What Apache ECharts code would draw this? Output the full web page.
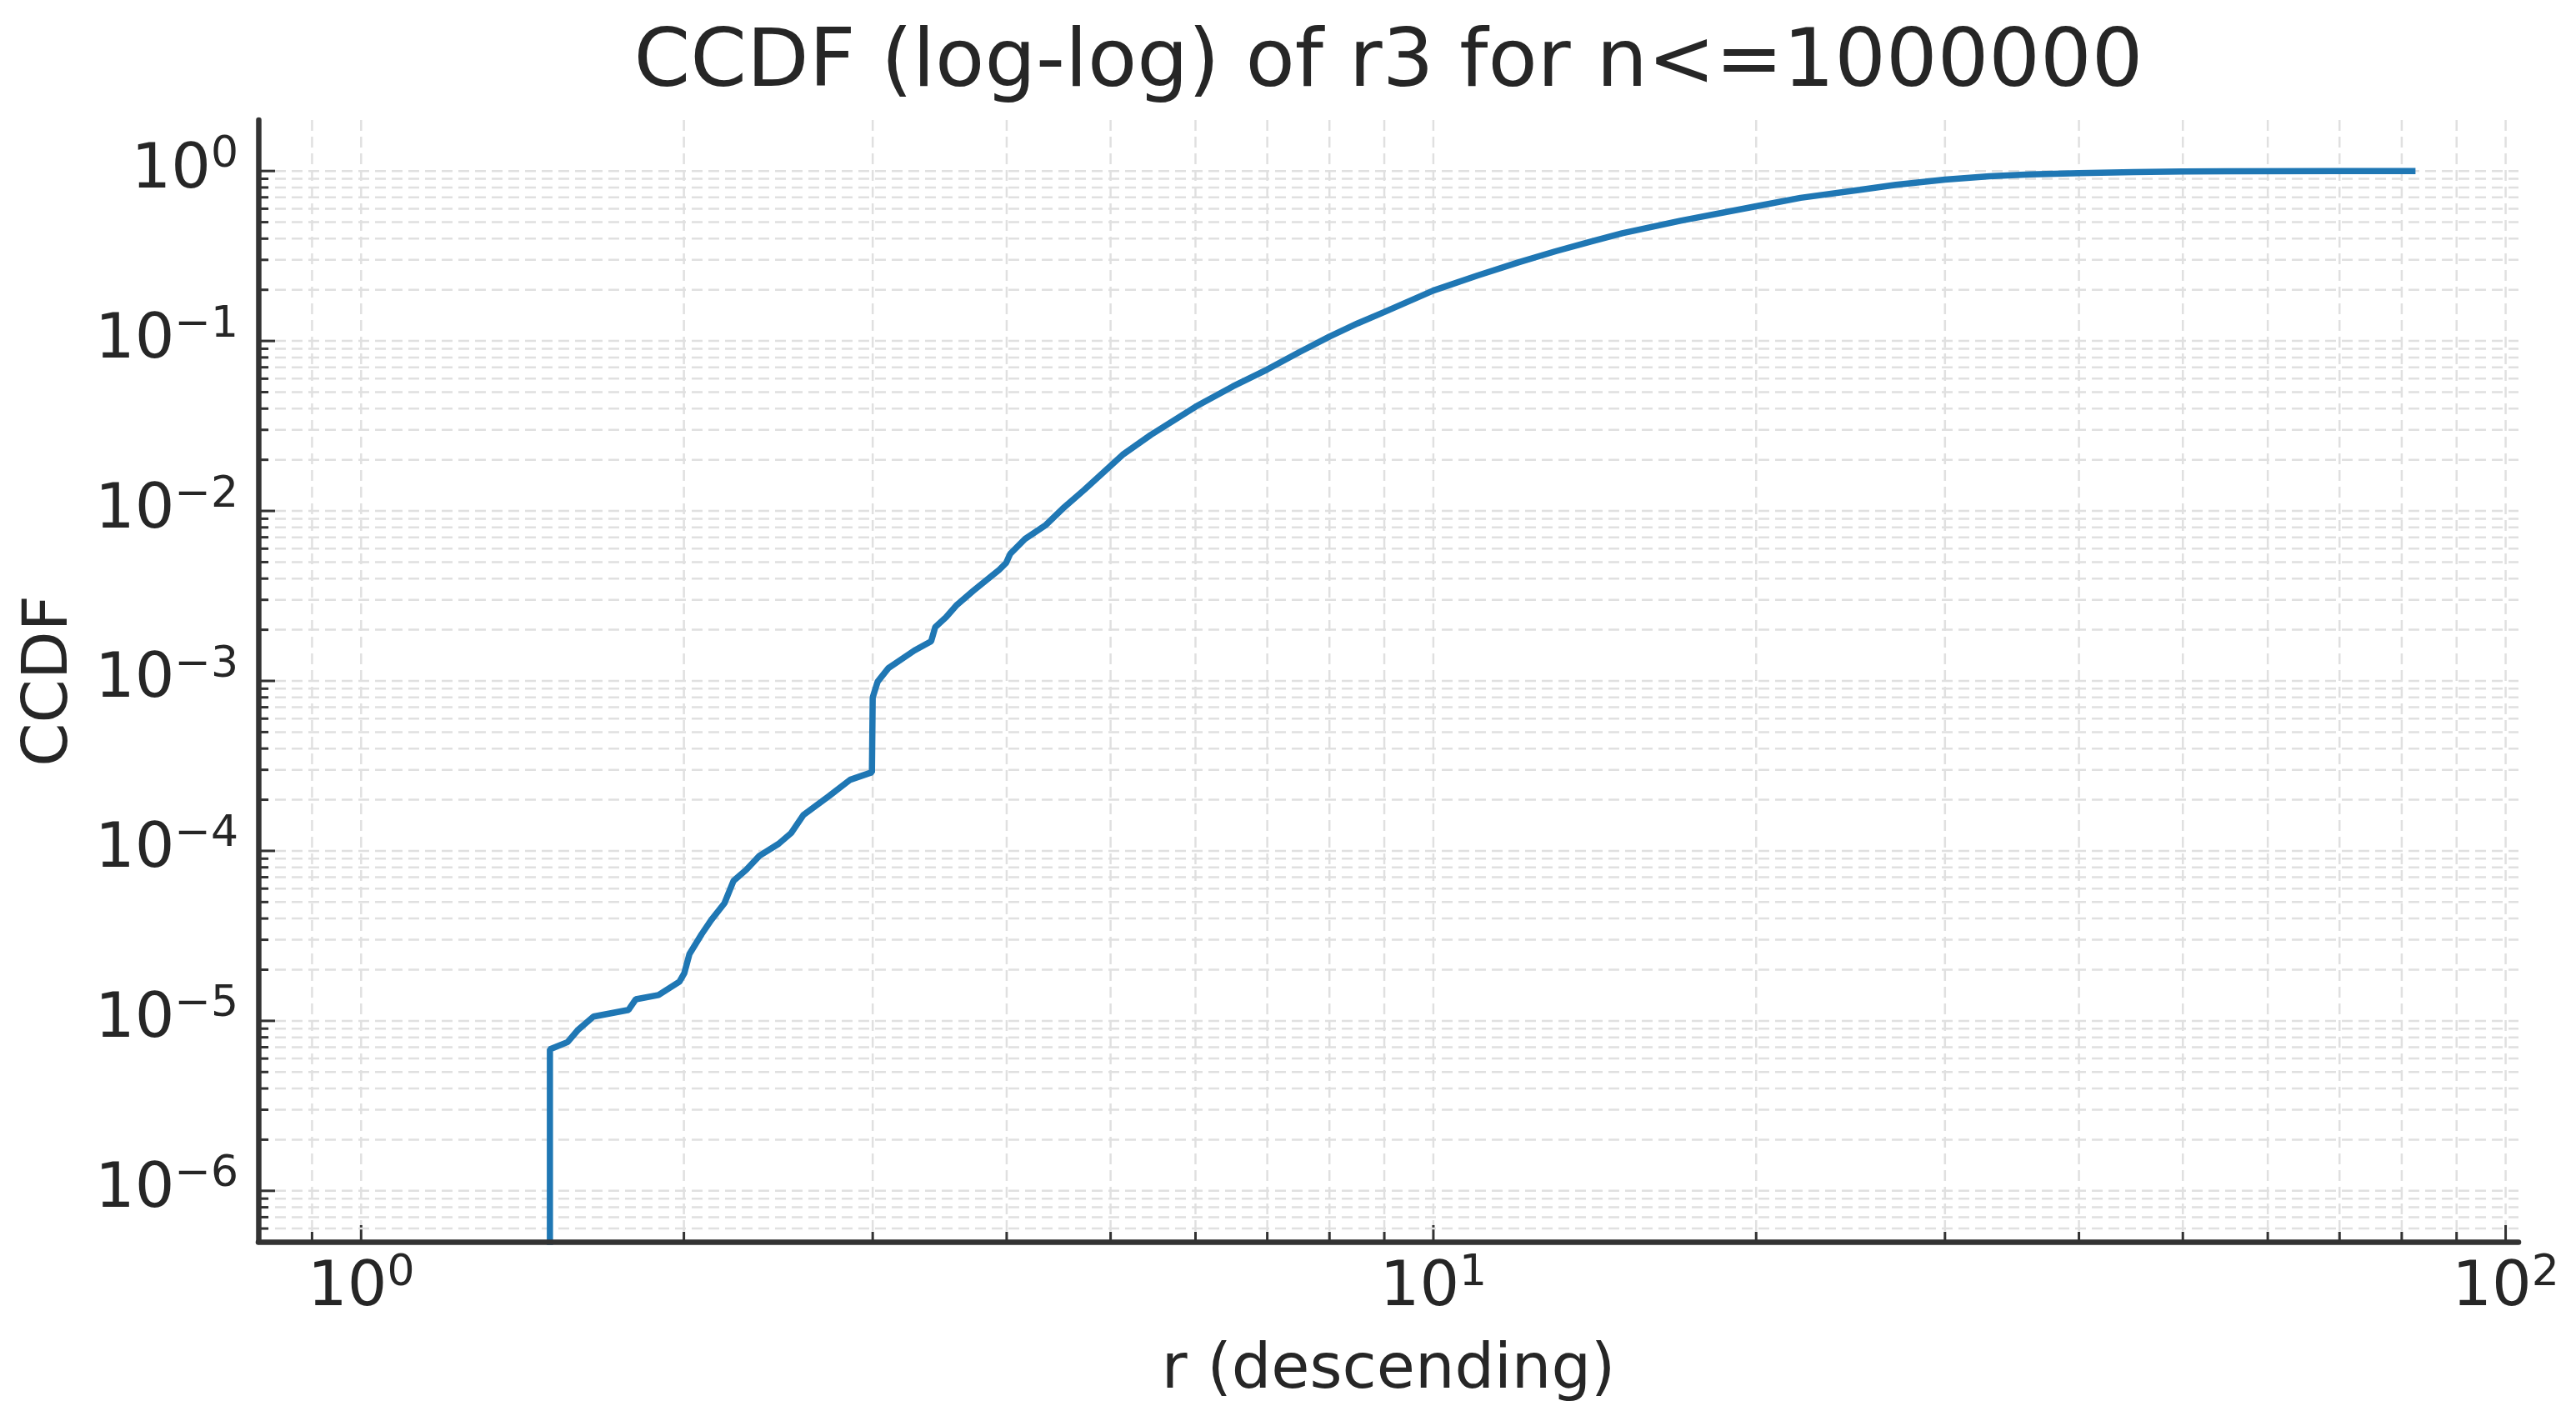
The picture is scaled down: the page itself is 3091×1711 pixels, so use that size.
<!DOCTYPE html>
<html>
<head>
<meta charset="utf-8">
<script src="https://cdn.jsdelivr.net/npm/echarts@6/dist/echarts.min.js"></script>
<style>
html, body { margin: 0; padding: 0; background: #ffffff; }
#chart { width: 3091px; height: 1711px; }
</style>
</head>
<body>
<div id="chart"></div>
<script>
// ---------------- data ----------------
const titleText = 'CCDF (log-log) of r3 for n<=1000000';
const xAxisName = 'r (descending)';
const yAxisName = 'CCDF';

// r values (x) and CCDF values (y)
const rValues = [
  1.5, 1.5, 1.5, 1.558, 1.592, 1.647, 1.776, 1.804, 1.894, 1.981,
  2.002, 2.024, 2.078, 2.121, 2.182, 2.225, 2.286, 2.352, 2.451, 2.517,
  2.586, 2.734, 2.858, 2.995, 3.0, 3.032, 3.103, 3.281, 3.401, 3.431,
  3.512, 3.594, 3.725, 3.937, 3.994, 4.030, 4.161, 4.352, 4.510, 4.725,
  5.131, 5.45, 6.0, 6.5, 7.0, 7.5, 8.0, 8.5, 9.0, 10,
  11, 12, 13, 14, 15, 17, 20, 22, 25, 27,
  30, 33, 36, 40, 45, 50, 55, 70, 82.4
];
const ccdfValues = [
  1e-7, 1e-6, 6.8e-6, 7.5e-6, 8.8e-6, 1.06e-5, 1.16e-5, 1.34e-5, 1.42e-5, 1.70e-5,
  1.91e-5, 2.47e-5, 3.24e-5, 3.92e-5, 4.92e-5, 6.67e-5, 7.73e-5, 9.35e-5, 1.10e-4, 1.27e-4,
  1.63e-4, 2.11e-4, 2.62e-4, 2.90e-4, 8.0e-4, 9.9e-4, 1.19e-3, 1.51e-3, 1.71e-3, 2.07e-3,
  2.37e-3, 2.80e-3, 3.40e-3, 4.51e-3, 4.93e-3, 5.58e-3, 6.84e-3, 8.28e-3, 1.03e-2, 1.33e-2,
  2.14e-2, 0.028, 0.041, 0.054, 0.068, 0.086, 0.106, 0.127, 0.148, 0.198,
  0.243, 0.29, 0.337, 0.383, 0.43, 0.51, 0.62, 0.695, 0.775, 0.83,
  0.89, 0.93, 0.955, 0.972, 0.986, 0.993, 0.997, 0.9995, 1.0
];

// axis ranges
const xRange = [0.802, 102.8];
const yRange = [5.012e-7, 1.995];

// tick values
const xMajorTicks = [1, 10, 100];
const xMinorTicks = [0.9, 2, 3, 4, 5, 6, 7, 8, 9, 20, 30, 40, 50, 60, 70, 80, 90];
const yMajorTicks = [1e-6, 1e-5, 1e-4, 1e-3, 1e-2, 1e-1, 1];
const yMinorTicks = [
  6e-7, 7e-7, 8e-7, 9e-7,
  2e-6, 3e-6, 4e-6, 5e-6, 6e-6, 7e-6, 8e-6, 9e-6,
  2e-5, 3e-5, 4e-5, 5e-5, 6e-5, 7e-5, 8e-5, 9e-5,
  2e-4, 3e-4, 4e-4, 5e-4, 6e-4, 7e-4, 8e-4, 9e-4,
  2e-3, 3e-3, 4e-3, 5e-3, 6e-3, 7e-3, 8e-3, 9e-3,
  2e-2, 3e-2, 4e-2, 5e-2, 6e-2, 7e-2, 8e-2, 9e-2,
  0.2, 0.3, 0.4, 0.5, 0.6, 0.7, 0.8, 0.9
];

// ---------------- style ----------------
const FONT = 'DejaVu Sans';
const TEXT_COLOR = '#262626';
const AXIS_COLOR = '#333333';
const GRID_COLOR = '#e0e0e0';
const LINE_COLOR = '#1f77b4';
const MAJOR_LEN = 20;
const MINOR_LEN = 12;

function powLabel(value) {
  const lg = Math.log10(value);
  const n = Math.round(lg);
  if (Math.abs(lg - n) > 1e-6) return '';
  const exp = n < 0 ? '\u2212' + (-n) : String(n);
  return '{b|10}{s|' + exp + '}';
}

const richStyles = {
  b: { fontSize: 75, fontFamily: FONT, color: TEXT_COLOR, lineHeight: 90, verticalAlign: 'middle' },
  s: { fontSize: 52, fontFamily: FONT, color: TEXT_COLOR, lineHeight: 50, verticalAlign: 'top' }
};

function gridRenderer(isX) {
  return function (params, api) {
    const cs = params.coordSys;
    const v = api.value(isX ? 0 : 1);
    const major = api.value(2) === 1;
    const len = major ? MAJOR_LEN : MINOR_LEN;
    const p = api.coord(isX ? [v, 1] : [1, v]);
    const children = [];
    if (isX) {
      const x = p[0];
      const yb = cs.y + cs.height;
      children.push({ type: 'line', shape: { x1: x, y1: cs.y, x2: x, y2: yb },
        style: { stroke: GRID_COLOR, lineWidth: 2.5, lineDash: [13, 7] } });
      children.push({ type: 'line', shape: { x1: x, y1: yb, x2: x, y2: yb - len },
        style: { stroke: AXIS_COLOR, lineWidth: 3 } });
    } else {
      const y = p[1];
      children.push({ type: 'line', shape: { x1: cs.x, y1: y, x2: cs.x + cs.width, y2: y },
        style: { stroke: GRID_COLOR, lineWidth: 2.5, lineDash: [13, 7] } });
      children.push({ type: 'line', shape: { x1: cs.x, y1: y, x2: cs.x + len, y2: y },
        style: { stroke: AXIS_COLOR, lineWidth: 3 } });
    }
    return { type: 'group', children: children };
  };
}

const xGridData = xMajorTicks.map(v => [v, 1, 1]).concat(xMinorTicks.map(v => [v, 1, 0]));
const yGridData = yMajorTicks.map(v => [1, v, 1]).concat(yMinorTicks.map(v => [1, v, 0]));
const lineData = rValues.map((r, i) => [r, ccdfValues[i]]);

const chart = echarts.init(document.getElementById('chart'), null, { renderer: 'canvas' });
chart.setOption({
  animation: false,
  backgroundColor: '#ffffff',
  title: {
    text: titleText,
    left: 1661,
    top: 24,
    textAlign: 'center',
    textStyle: { fontSize: 97, fontWeight: 'normal', fontFamily: FONT, color: TEXT_COLOR }
  },
  grid: { left: 310, right: 69, top: 144, bottom: 221, containLabel: false },
  xAxis: {
    type: 'log',
    logBase: 10,
    min: xRange[0],
    max: xRange[1],
    z: 5,
    axisLine: { show: true, onZero: false, lineStyle: { color: AXIS_COLOR, width: 6.5 } },
    axisTick: { show: false },
    minorTick: { show: false },
    splitLine: { show: false },
    minorSplitLine: { show: false },
    axisLabel: { interval: 0, margin: 12, formatter: powLabel, rich: richStyles, color: TEXT_COLOR },
    name: xAxisName,
    nameLocation: 'middle',
    nameGap: 118,
    nameTextStyle: { fontSize: 75, fontFamily: FONT, color: TEXT_COLOR }
  },
  yAxis: {
    type: 'log',
    logBase: 10,
    min: yRange[0],
    max: yRange[1],
    z: 5,
    axisLine: { show: true, onZero: false, lineStyle: { color: AXIS_COLOR, width: 6.5 } },
    axisTick: { show: false },
    minorTick: { show: false },
    splitLine: { show: false },
    minorSplitLine: { show: false },
    axisLabel: { interval: 0, margin: 24, formatter: powLabel, rich: richStyles, color: TEXT_COLOR },
    name: yAxisName,
    nameLocation: 'middle',
    nameGap: 212,
    nameTextStyle: { fontSize: 75, fontFamily: FONT, color: TEXT_COLOR }
  },
  series: [
    { type: 'custom', name: 'xgrid', silent: true, z: 1, renderItem: gridRenderer(true), data: xGridData, clip: false },
    { type: 'custom', name: 'ygrid', silent: true, z: 1, renderItem: gridRenderer(false), data: yGridData, clip: false },
    {
      type: 'line', name: 'CCDF', z: 3, data: lineData, showSymbol: false, symbol: 'none',
      clip: true, lineStyle: { color: LINE_COLOR, width: 7.5 }
    }
  ]
});
</script>
</body>
</html>
